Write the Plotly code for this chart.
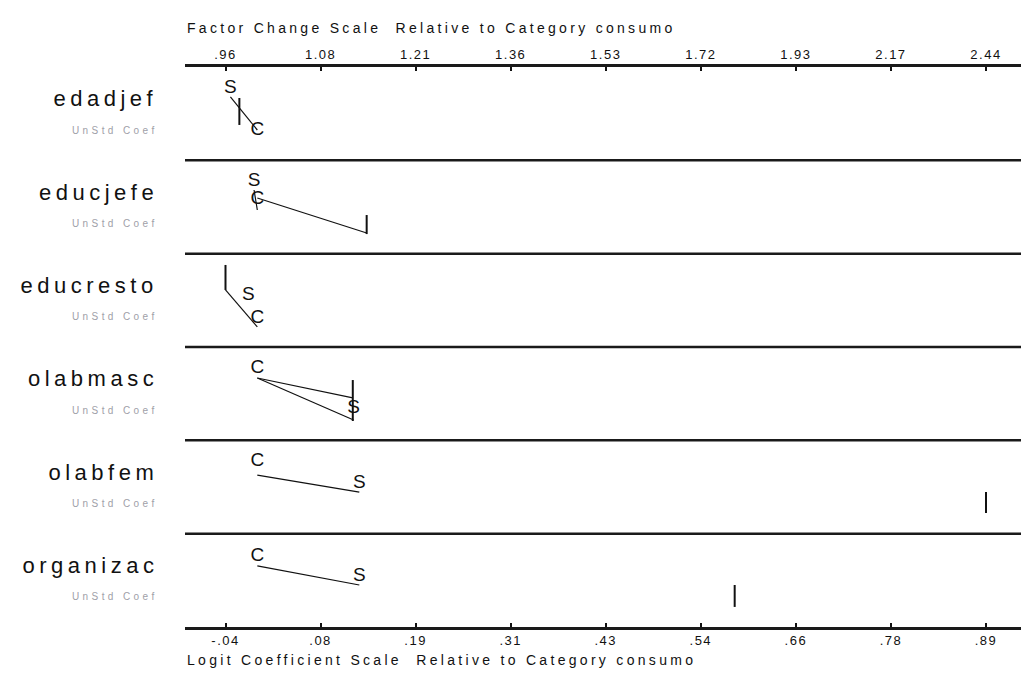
import plotly.graph_objects as go

# ---------------- data ----------------
variables = ["edadjef", "educjefe", "educresto", "olabmasc", "olabfem", "organizac"]
coef_C = [0.0, 0.0, 0.0, 0.0, 0.0, 0.0]          # base category (consumo)
coef_S = [-0.033, -0.004, -0.011, 0.118, 0.125, 0.125]
coef_I = [-0.022, 0.134, -0.039, 0.117, 0.893, 0.585]
factor_tick_labels = [".96", "1.08", "1.21", "1.36", "1.53", "1.72", "1.93", "2.17", "2.44"]
logit_tick_labels = ["-.04", ".08", ".19", ".31", ".43", ".54", ".66", ".78", ".89"]
sub_label = "UnStd Coef"
top_title = "Factor Change Scale  Relative to Category consumo"
bottom_title = "Logit Coefficient Scale  Relative to Category consumo"

# ---------------- layout (positions within each panel, fraction from panel top) ----------------
W, H = 1021, 675
PLOT_L, PLOT_R, PLOT_T, PLOT_B = 185, 1021, 67, 627
TICK_LO_PX, TICK_HI_PX = 225.5, 986.0
LABEL_RIGHT_PX = 160

letter_y = {
    "S": [0.225, 0.228, 0.443, 0.654, 0.457, 0.453],
    "C": [0.675, 0.418, 0.689, 0.225, 0.222, 0.239],
}
i_bar = {"top": [0.332, 0.586, 0.121, 0.354, 0.554, 0.55],
         "bot": [0.621, 0.79, 0.389, 0.793, 0.779, 0.785]}
# connections: panel -> list of (letter_a, y_a, letter_b, y_b)
connections = {
    0: [("S", 0.32, "C", 0.675)],
    1: [("S", 0.318, "C", 0.532), ("C", 0.404, "I", 0.779)],
    2: [("I", 0.389, "C", 0.785)],
    3: [("C", 0.332, "I", 0.546), ("C", 0.332, "S", 0.782)],
    4: [("C", 0.372, "S", 0.554)],
    5: [("C", 0.346, "S", 0.55)],
}
name_y, sub_y = 0.34, 0.675

coefs = {"C": coef_C, "S": coef_S, "I": coef_I}
all_vals = coef_C + coef_S + coef_I
lo, hi = min(all_vals), max(all_vals)
step = (hi - lo) / 8
tickvals = [lo + k * step for k in range(9)]
ppu = (TICK_HI_PX - TICK_LO_PX) / (hi - lo)
xr = [lo - (TICK_LO_PX - PLOT_L) / ppu, lo + (PLOT_R - TICK_LO_PX) / ppu]

FONT = "Liberation Sans, Arial, sans-serif"
fig = go.Figure()

# connection lines
lx, ly = [], []
for p, conns in connections.items():
    for a, ya, b, yb in conns:
        lx += [coefs[a][p], coefs[b][p], None]
        ly += [p + ya, p + yb, None]
fig.add_trace(go.Scatter(x=lx, y=ly, mode="lines", line=dict(color="#111", width=1.2),
                         hoverinfo="skip", showlegend=False))

# I letters drawn as bars
bx, by = [], []
for p in range(len(variables)):
    bx += [coef_I[p], coef_I[p], None]
    by += [p + i_bar["top"][p], p + i_bar["bot"][p], None]
fig.add_trace(go.Scatter(x=bx, y=by, mode="lines", line=dict(color="#111", width=2),
                         hoverinfo="skip", showlegend=False))

# S and C letters
for let in ["S", "C"]:
    fig.add_trace(go.Scatter(
        x=coefs[let], y=[p + letter_y[let][p] for p in range(len(variables))],
        mode="text", text=[let] * len(variables), textposition="middle center",
        textfont=dict(family=FONT, size=19, color="#111"), hoverinfo="skip", showlegend=False))

# top axis trace (invisible) to activate xaxis2
fig.add_trace(go.Scatter(x=[lo, hi], y=[0, 0], xaxis="x2", mode="markers",
                         marker=dict(opacity=0), hoverinfo="skip", showlegend=False))

shapes = []
for p in range(1, len(variables)):
    shapes.append(dict(type="line", xref="paper", x0=0, x1=1, yref="y", y0=p, y1=p,
                       line=dict(color="#1a1a1a", width=2.5)))

ann = []
lab_x = (LABEL_RIGHT_PX - PLOT_L) / (PLOT_R - PLOT_L)
for p, v in enumerate(variables):
    ann.append(dict(text=v, xref="paper", x=lab_x, xanchor="right",
                    align="right", yref="y", y=p + name_y, yanchor="middle", showarrow=False,
                    font=dict(family=FONT, size=22, color="#111")))
    ann.append(dict(text=sub_label, xref="paper", x=lab_x, xanchor="right",
                    align="right", yref="y", y=p + sub_y, yanchor="middle", showarrow=False,
                    font=dict(family=FONT, size=10, color="#a0a0a8")))
ph = PLOT_B - PLOT_T
ann.append(dict(text=top_title, xref="paper", x=0, xanchor="left", align="left",
                yref="paper", y=1 + (PLOT_T - 28) / ph, yanchor="middle", showarrow=False,
                font=dict(family=FONT, size=14, color="#111")))
ann.append(dict(text=bottom_title, xref="paper", x=0, xanchor="left", align="left",
                yref="paper", y=-(660 - PLOT_B) / ph, yanchor="middle", showarrow=False,
                font=dict(family=FONT, size=14, color="#111")))

axis_common = dict(range=xr, tickmode="array", tickvals=tickvals, ticks="inside", ticklen=4,
                   tickwidth=2, tickcolor="#111", showline=True, linecolor="#1a1a1a", linewidth=2.5,
                   showgrid=False, zeroline=False, tickfont=dict(family=FONT, size=13, color="#111"))

fig.update_layout(
    width=W, height=H, autosize=False,
    margin=dict(l=PLOT_L, r=W - PLOT_R, t=PLOT_T, b=H - PLOT_B, pad=0),
    paper_bgcolor="white", plot_bgcolor="white",
    xaxis=dict(ticktext=logit_tick_labels, side="bottom", **axis_common),
    xaxis2=dict(ticktext=factor_tick_labels, side="top", overlaying="x", matches="x", **axis_common),
    yaxis=dict(range=[len(variables), 0], visible=False, showgrid=False, zeroline=False),
    shapes=shapes, annotations=ann, showlegend=False,
)

js = """
var st=document.createElement('style');
st.textContent='.xtick text, .x2tick text{letter-spacing:1.5px}';
document.head.appendChild(st);
document.querySelectorAll('.annotation-text').forEach(function(t){
  var fs=parseFloat(t.style.fontSize);
  var ls = fs>=20 ? 4.5 : (fs>=13 ? 3.3 : 3.4);
  t.style.letterSpacing = ls+'px';
});
"""
fig.write_html("out.html", post_script=js)
